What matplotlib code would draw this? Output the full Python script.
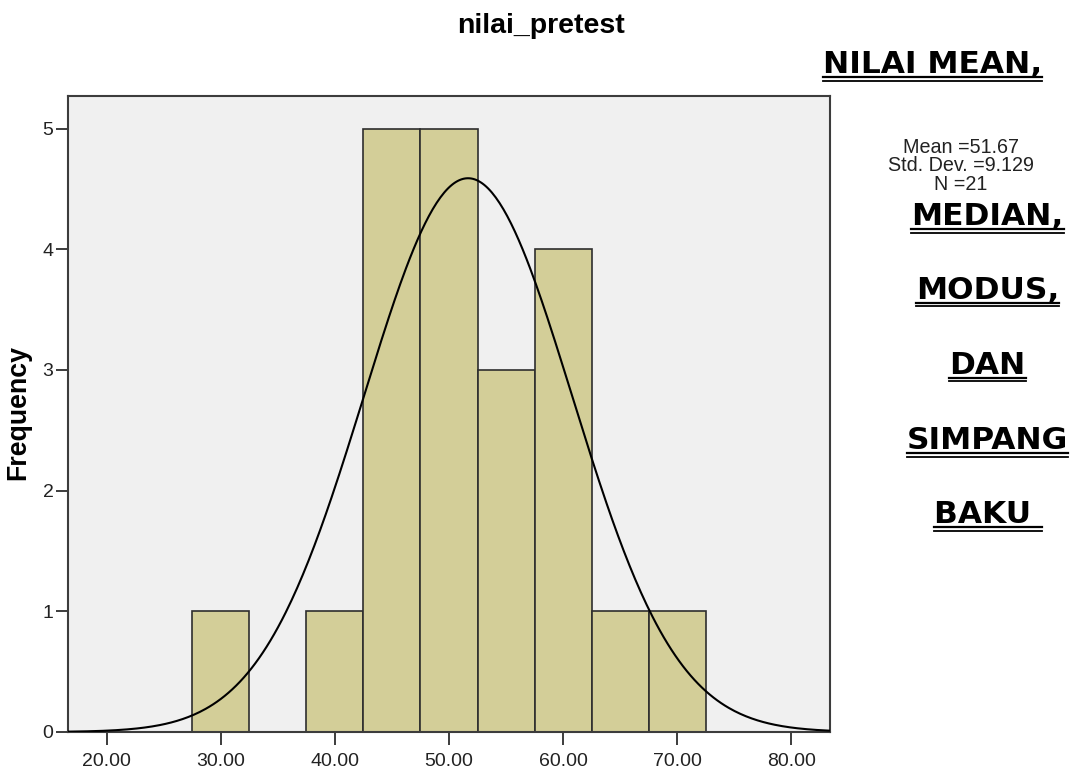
import matplotlib
matplotlib.use('Agg')
import matplotlib.pyplot as plt
from matplotlib.lines import Line2D
import numpy as np

# histogram bins (centre, width 5) and counts for nilai_pretest
bin_centers = [30, 40, 45, 50, 55, 60, 65, 70]
counts = [1, 1, 5, 5, 3, 4, 1, 1]
bin_width = 5

mean_val = 51.67
std_val = 9.129
n_val = 21

x_ticks = [20, 30, 40, 50, 60, 70, 80]
y_ticks = [0, 1, 2, 3, 4, 5]

side_words = ["NILAI MEAN,", "MEDIAN,", "MODUS,", "DAN", "SIMPANG", "BAKU "]
side_x = [932.5, 987.5, 987.5, 987.5, 987.5, 988]
side_baseline = [73, 225, 299, 374, 449, 523]

W, H = 1073, 769
fig = plt.figure(figsize=(W / 100, H / 100), dpi=100)
ax = fig.add_axes([68 / W, 1 - 732 / H, (830 - 68) / W, (732 - 96) / H])
ax.set_facecolor('#f0f0f0')

ax.bar(bin_centers, counts, width=bin_width, color='#d3ce98',
       edgecolor='#2e2e2e', linewidth=1.2, zorder=2)

# fitted normal curve scaled to counts
xs = np.linspace(16.6, 83.4, 400)
ys = n_val * bin_width / (std_val * np.sqrt(2 * np.pi)) * np.exp(-0.5 * ((xs - mean_val) / std_val) ** 2)
ax.plot(xs, ys, color='black', linewidth=1.5, zorder=3)

ax.set_xlim(16.6, 83.4)
ax.set_ylim(0, 5.27)
ax.set_xticks(x_ticks)
ax.set_xticklabels([f"{v:.2f}" for v in x_ticks], fontfamily='Liberation Sans', fontsize=14)
ax.set_yticks(y_ticks)
ax.set_yticklabels([str(v) for v in y_ticks], fontfamily='Liberation Sans', fontsize=14)
ax.tick_params(axis='both', direction='out', length=9, width=1.4, color='#3c3c3c', colors='#222222')
ax.tick_params(axis='x', pad=6)
ax.tick_params(axis='y', pad=1.5)
for s in ax.spines.values():
    s.set_color('#3c3c3c')
    s.set_linewidth(1.5)

fig.text(18 / W, 1 - 412 / H, 'Frequency', rotation=90, ha='center', va='center',
         fontfamily='Liberation Sans', fontweight='bold', fontsize=19.3)
fig.text(541 / W, 1 - 33 / H, 'nilai_pretest', ha='center', va='baseline',
         fontfamily='Liberation Sans', fontweight='bold', fontsize=20.5)

fig.text(961 / W, 1 - 190 / H, f"Mean ={mean_val:.2f}\nStd. Dev. ={std_val:.3f}\nN ={n_val}",
         ha='center', va='baseline', multialignment='center', linespacing=0.98,
         fontfamily='Liberation Sans', fontsize=14.2, color='#222222')

# bold side words with a double underline
texts = []
for word, cx, base in zip(side_words, side_x, side_baseline):
    t = fig.text(cx / W, 1 - base / H, word, ha='center', va='baseline',
                 fontfamily='DejaVu Sans', fontweight='bold', fontsize=22.5, color='black')
    texts.append((t, base))

fig.canvas.draw()
renderer = fig.canvas.get_renderer()
for t, base in texts:
    bb = t.get_window_extent(renderer)
    for off, lw in [(4, 1.6), (7.5, 1.3)]:
        yy = (H - base - off) / H
        fig.add_artist(Line2D([bb.x0 / W, bb.x1 / W], [yy, yy], color='black',
                              linewidth=lw, transform=fig.transFigure))

fig.savefig('out.png', dpi=100)
